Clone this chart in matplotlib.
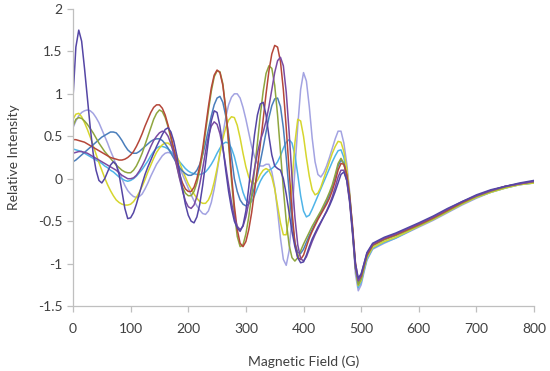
import numpy as np
import matplotlib.pyplot as plt

plt.rcParams['font.family'] = ['Lato', 'DejaVu Sans']

# field (G): 5 G steps over the hyperfine lines, coarser on the tail
field = list(range(0, 505, 5)) + [505, 510, 520, 540, 560, 600, 625, 650, 675, 700, 725, 750, 775, 800]

indigo = [0.95, 1.55, 1.75, 1.62, 1.30, 0.95, 0.60, 0.30, 0.10, -0.02,
          -0.05, 0.00, 0.08, 0.16, 0.20, 0.17, 0.05, -0.15, -0.35, -0.47,
          -0.46, -0.40, -0.30, -0.18, -0.06, 0.05, 0.14, 0.22, 0.30, 0.38,
          0.45, 0.52, 0.58, 0.60, 0.55, 0.44, 0.28, 0.08, -0.12, -0.30,
          -0.43, -0.50, -0.52, -0.45, -0.30, -0.08, 0.18, 0.45, 0.68, 0.80,
          0.78, 0.62, 0.38, 0.10, -0.15, -0.35, -0.50, -0.58, -0.62, -0.55,
          -0.38, -0.10, 0.22, 0.52, 0.75, 0.88, 0.90, 0.75, 0.50, 0.28,
          0.15, 0.12, 0.10, 0.00, -0.18, -0.40, -0.62, -0.80, -0.93, -0.99,
          -0.98, -0.90, -0.80, -0.71, -0.64, -0.57, -0.51, -0.45, -0.39, -0.32,
          -0.24, -0.15, -0.05, 0.05, 0.08, -0.02, -0.25, -0.60, -1.00, -1.17,
          -1.12,
          -1.00, -0.87, -0.76, -0.69, -0.64, -0.52, -0.44, -0.35, -0.27, -0.19, -0.13, -0.09, -0.05, -0.02]
red = [0.46, 0.46, 0.45, 0.44, 0.43, 0.41, 0.39, 0.37, 0.35, 0.33,
       0.31, 0.29, 0.27, 0.25, 0.24, 0.23, 0.22, 0.22, 0.23, 0.25,
       0.28, 0.32, 0.38, 0.45, 0.53, 0.62, 0.70, 0.78, 0.84, 0.87,
       0.87, 0.83, 0.75, 0.63, 0.50, 0.35, 0.20, 0.05, -0.05, -0.12,
       -0.15, -0.15, -0.10, 0.00, 0.15, 0.35, 0.60, 0.85, 1.07, 1.22,
       1.28, 1.25, 1.10, 0.82, 0.45, 0.05, -0.32, -0.60, -0.76, -0.80,
       -0.74, -0.60, -0.40, -0.15, 0.12, 0.40, 0.70, 1.00, 1.27, 1.47,
       1.57, 1.55, 1.38, 1.05, 0.60, 0.10, -0.38, -0.75, -0.93, -0.95,
       -0.90, -0.80, -0.70, -0.62, -0.55, -0.48, -0.42, -0.36, -0.30, -0.23,
       -0.14, -0.03, 0.10, 0.18, 0.17, 0.05, -0.20, -0.55, -0.98, -1.20,
       -1.15,
       -1.02, -0.90, -0.78, -0.71, -0.66, -0.54, -0.46, -0.37, -0.28, -0.20, -0.14, -0.09, -0.06, -0.03]
olive = [0.62, 0.70, 0.72, 0.71, 0.68, 0.64, 0.59, 0.54, 0.48, 0.42,
         0.37, 0.32, 0.28, 0.24, 0.20, 0.16, 0.13, 0.10, 0.08, 0.07,
         0.07, 0.10, 0.15, 0.22, 0.30, 0.40, 0.50, 0.60, 0.70, 0.77,
         0.81, 0.79, 0.72, 0.61, 0.47, 0.32, 0.16, 0.01, -0.10, -0.17,
         -0.20, -0.20, -0.15, -0.05, 0.10, 0.30, 0.55, 0.80, 1.03, 1.20,
         1.27, 1.26, 1.12, 0.82, 0.40, -0.02, -0.40, -0.68, -0.80, -0.78,
         -0.65, -0.45, -0.20, 0.10, 0.42, 0.75, 1.03, 1.24, 1.33, 1.30,
         1.10, 0.75, 0.32, -0.12, -0.50, -0.78, -0.93, -0.97, -0.93, -0.85,
         -0.77, -0.70, -0.63, -0.56, -0.50, -0.44, -0.38, -0.31, -0.24, -0.16,
         -0.07, 0.05, 0.18, 0.24, 0.18, 0.02, -0.25, -0.62, -1.05, -1.25,
         -1.18,
         -1.04, -0.91, -0.79, -0.72, -0.67, -0.55, -0.47, -0.38, -0.29, -0.21, -0.15, -0.10, -0.06, -0.04]
yellow = [0.70, 0.76, 0.77, 0.73, 0.66, 0.58, 0.49, 0.39, 0.29, 0.19,
          0.10, 0.01, -0.07, -0.14, -0.20, -0.25, -0.28, -0.30, -0.31, -0.31,
          -0.30, -0.27, -0.22, -0.16, -0.09, -0.01, 0.08, 0.16, 0.24, 0.31,
          0.36, 0.40, 0.42, 0.42, 0.39, 0.34, 0.27, 0.19, 0.10, 0.02,
          -0.06, -0.12, -0.18, -0.23, -0.27, -0.29, -0.29, -0.25, -0.17, -0.04,
          0.12, 0.30, 0.47, 0.60, 0.69, 0.73, 0.72, 0.63, 0.48, 0.30,
          0.14, 0.02, -0.05, -0.06, -0.02, 0.05, 0.10, 0.12, 0.10, 0.02,
          -0.12, -0.32, -0.52, -0.66, -0.66, -0.45, -0.05, 0.42, 0.70, 0.68,
          0.50, 0.25, 0.03, -0.13, -0.19, -0.17, -0.10, 0.00, 0.10, 0.20,
          0.30, 0.38, 0.44, 0.43, 0.32, 0.12, -0.18, -0.58, -1.05, -1.26,
          -1.20,
          -1.06, -0.93, -0.81, -0.74, -0.69, -0.56, -0.48, -0.39, -0.30, -0.22, -0.16, -0.11, -0.07, -0.05]
lavender = [0.60, 0.68, 0.74, 0.78, 0.80, 0.81, 0.80, 0.77, 0.72, 0.66,
            0.58, 0.50, 0.42, 0.33, 0.25, 0.16, 0.08, 0.00, -0.08, -0.14,
            -0.18, -0.21, -0.22, -0.21, -0.18, -0.12, -0.05, 0.03, 0.10, 0.17,
            0.22, 0.27, 0.30, 0.31, 0.30, 0.26, 0.20, 0.13, 0.05, -0.03,
            -0.11, -0.19, -0.26, -0.32, -0.37, -0.41, -0.42, -0.38, -0.28, -0.12,
            0.08, 0.30, 0.52, 0.72, 0.87, 0.96, 1.00, 1.00, 0.95, 0.84,
            0.70, 0.54, 0.38, 0.26, 0.18, 0.15, 0.15, 0.17, 0.17, 0.08,
            -0.10, -0.38, -0.70, -0.95, -1.02, -0.85, -0.45, 0.10, 0.62, 1.05,
            1.25, 1.15, 0.85, 0.48, 0.20, 0.05, 0.02, 0.07, 0.15, 0.25,
            0.36, 0.47, 0.56, 0.56, 0.42, 0.18, -0.15, -0.60, -1.12, -1.32,
            -1.25,
            -1.10, -0.96, -0.83, -0.76, -0.70, -0.57, -0.49, -0.40, -0.31, -0.23, -0.16, -0.11, -0.07, -0.05]
cyan = [0.35, 0.34, 0.33, 0.32, 0.30, 0.28, 0.26, 0.24, 0.22, 0.20,
        0.18, 0.15, 0.13, 0.10, 0.08, 0.05, 0.02, 0.00, -0.02, -0.03,
        -0.02, 0.00, 0.03, 0.07, 0.11, 0.16, 0.21, 0.27, 0.32, 0.36,
        0.38, 0.38, 0.37, 0.35, 0.32, 0.28, 0.24, 0.20, 0.16, 0.12,
        0.09, 0.07, 0.06, 0.05, 0.05, 0.06, 0.08, 0.12, 0.17, 0.23,
        0.30, 0.36, 0.41, 0.43, 0.42, 0.36, 0.26, 0.12, -0.03, -0.16,
        -0.25, -0.29, -0.27, -0.20, -0.11, -0.03, 0.03, 0.07, 0.10, 0.12,
        0.15, 0.20, 0.27, 0.36, 0.43, 0.46, 0.42, 0.28, 0.05, -0.20,
        -0.38, -0.45, -0.43, -0.36, -0.28, -0.20, -0.12, -0.04, 0.04, 0.12,
        0.20, 0.27, 0.33, 0.34, 0.25, 0.05, -0.20, -0.60, -1.05, -1.28,
        -1.22,
        -1.08, -0.95, -0.82, -0.75, -0.70, -0.56, -0.48, -0.39, -0.30, -0.22, -0.16, -0.11, -0.07, -0.05]
blue = [0.20, 0.22, 0.25, 0.28, 0.31, 0.34, 0.37, 0.40, 0.43, 0.46,
        0.49, 0.51, 0.53, 0.55, 0.55, 0.54, 0.50, 0.45, 0.39, 0.34,
        0.31, 0.30, 0.30, 0.32, 0.35, 0.38, 0.41, 0.44, 0.46, 0.47,
        0.47, 0.45, 0.41, 0.36, 0.30, 0.24, 0.18, 0.13, 0.09, 0.06,
        0.04, 0.04, 0.06, 0.10, 0.17, 0.28, 0.42, 0.58, 0.74, 0.87,
        0.95, 0.97, 0.90, 0.74, 0.52, 0.26, 0.00, -0.15, -0.25, -0.30,
        -0.32, -0.30, -0.22, -0.10, 0.05, 0.20, 0.37, 0.55, 0.72, 0.86,
        0.94, 0.95, 0.85, 0.60, 0.25, -0.15, -0.50, -0.75, -0.87, -0.88,
        -0.83, -0.75, -0.67, -0.60, -0.53, -0.46, -0.40, -0.34, -0.27, -0.19,
        -0.10, 0.02, 0.15, 0.22, 0.18, 0.04, -0.22, -0.60, -1.02, -1.23,
        -1.17,
        -1.03, -0.90, -0.78, -0.71, -0.66, -0.54, -0.46, -0.37, -0.28, -0.20, -0.14, -0.09, -0.06, -0.03]
purple = [0.30, 0.31, 0.32, 0.32, 0.31, 0.30, 0.28, 0.26, 0.24, 0.22,
          0.20, 0.18, 0.16, 0.14, 0.12, 0.10, 0.07, 0.04, 0.02, 0.00,
          0.00, 0.01, 0.04, 0.09, 0.15, 0.22, 0.30, 0.38, 0.45, 0.50,
          0.54, 0.56, 0.55, 0.50, 0.41, 0.29, 0.15, 0.00, -0.14, -0.26,
          -0.33, -0.35, -0.31, -0.21, -0.06, 0.12, 0.32, 0.50, 0.62, 0.67,
          0.64, 0.53, 0.36, 0.15, -0.07, -0.28, -0.45, -0.56, -0.60, -0.56,
          -0.45, -0.28, -0.08, 0.12, 0.30, 0.45, 0.55, 0.68, 0.85, 1.05,
          1.25, 1.39, 1.43, 1.33, 1.02, 0.55, 0.02, -0.45, -0.78, -0.94,
          -0.97, -0.92, -0.83, -0.74, -0.66, -0.59, -0.52, -0.45, -0.38, -0.30,
          -0.21, -0.10, 0.02, 0.10, 0.10, -0.02, -0.28, -0.65, -1.05, -1.20,
          -1.13,
          -1.00, -0.88, -0.77, -0.70, -0.65, -0.53, -0.45, -0.36, -0.27, -0.20, -0.14, -0.09, -0.06, -0.03]

series = [lavender, cyan, yellow, blue, olive, red, purple, indigo]
colors = ['#A3A3E2', '#4FB4E8', '#D6D62E', '#4A7EBB', '#8FA63F', '#B5473A', '#7A4BA3', '#5546A5']

fig = plt.figure(figsize=(5.5, 3.71), dpi=100)
ax = fig.add_axes([0.1327, 0.175, 0.971 - 0.1327, 0.976 - 0.175])

for s, c in zip(series, colors):
    ax.plot(field, s, color=c, lw=1.1, solid_joinstyle='round')

ax.set_xlim(0, 800)
ax.set_ylim(-1.5, 2)
ax.set_xticks(range(0, 801, 100))
ax.set_yticks([-1.5, -1, -0.5, 0, 0.5, 1, 1.5, 2])
ax.set_yticklabels(['-1.5', '-1', '-0.5', '0', '0.5', '1', '1.5', '2'])

for side in ['top', 'right']:
    ax.spines[side].set_visible(False)
for side in ['left', 'bottom']:
    ax.spines[side].set_color('#BFBFBF')
    ax.spines[side].set_linewidth(0.9)
ax.tick_params(axis='both', colors='#BFBFBF', length=4, width=0.9, labelsize=10, labelcolor='#404040')
ax.tick_params(axis='x', pad=8)

ax.set_xlabel('Magnetic Field (G)', fontsize=10, color='#404040', labelpad=15)
ax.set_ylabel('Relative Intensity', fontsize=10, color='#404040', labelpad=13)

plt.savefig('out.png', dpi=100)
